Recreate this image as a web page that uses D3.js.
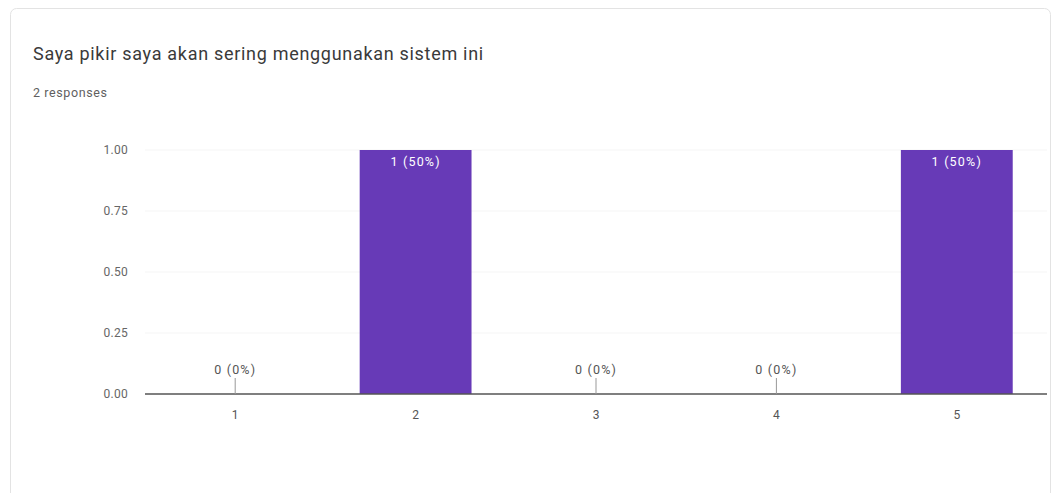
<!DOCTYPE html>
<html><head><meta charset="utf-8">
<script src="https://cdn.jsdelivr.net/npm/d3@7"></script>
<style>
html,body{margin:0;padding:0;background:#fff;}
svg{display:block;}
</style></head>
<body>
<svg id="chart" width="1059" height="493"></svg>
<script>
const title = "Saya pikir saya akan sering menggunakan sistem ini";
const subtitle = "2 responses";
const categories = ["1", "2", "3", "4", "5"];
const counts = [0, 1, 0, 0, 1];
const labels = ["0 (0%)", "1 (50%)", "0 (0%)", "0 (0%)", "1 (50%)"];
const yTicks = [0, 0.25, 0.5, 0.75, 1.0];

const svg = d3.select("#chart");
const font = "Roboto, 'Noto Sans', Arial, sans-serif";

// card
svg.append("rect").attr("x", 10.5).attr("y", 8.5).attr("width", 1040).attr("height", 500)
  .attr("rx", 6).attr("fill", "#fff").attr("stroke", "#e3e3e3");

svg.append("text").attr("x", 33).attr("y", 60).text(title)
  .attr("font-family", font).attr("font-size", 18).attr("letter-spacing", 0.7).attr("fill", "#3a3a3a");
svg.append("text").attr("x", 33).attr("y", 97).text(subtitle)
  .attr("font-family", font).attr("font-size", 12.5).attr("letter-spacing", 0.6).attr("fill", "#5f5f5f");

const x = d3.scaleBand().domain(categories).range([145, 1047]).paddingInner(0.38).paddingOuter(0.19);
const y = d3.scaleLinear().domain([0, 1]).range([394, 150]);

// gridlines
svg.append("g").selectAll("line").data(yTicks.filter(d => d > 0)).join("line")
  .attr("x1", 145).attr("x2", 1047).attr("y1", d => y(d)).attr("y2", d => y(d))
  .attr("stroke", "#f5f5f5");

// y axis labels
const yAxis = svg.append("g").attr("transform", "translate(145,0)")
  .call(d3.axisLeft(y).tickValues(yTicks).tickFormat(d3.format(".2f")).tickSize(0).tickPadding(17));
yAxis.select(".domain").remove();
yAxis.selectAll("text").attr("font-family", font).attr("font-size", 12).attr("letter-spacing", 0.3).attr("fill", "#666");

// bars
svg.append("g").selectAll("rect").data(categories).join("rect")
  .attr("x", d => x(d)).attr("width", x.bandwidth())
  .attr("y", (d, i) => y(counts[i])).attr("height", (d, i) => y(0) - y(counts[i]))
  .attr("fill", "#673ab7");

// baseline
svg.append("line").attr("x1", 145).attr("x2", 1047).attr("y1", y(0)).attr("y2", y(0))
  .attr("stroke", "#555").attr("stroke-width", 1.5);

// x axis labels
const xAxis = svg.append("g").attr("transform", `translate(0,${y(0)})`)
  .call(d3.axisBottom(x).tickSize(0).tickPadding(16));
xAxis.select(".domain").remove();
xAxis.selectAll("text").attr("font-family", font).attr("font-size", 12).attr("fill", "#555");

// value labels
const lg = svg.append("g");
categories.forEach((c, i) => {
  const cx = x(c) + x.bandwidth() / 2;
  if (counts[i] > 0) {
    lg.append("text").attr("x", cx).attr("y", y(counts[i]) + 16).attr("text-anchor", "middle")
      .attr("font-family", font).attr("font-size", 12.5).attr("letter-spacing", 1.2)
      .attr("fill", "#fff").text(labels[i]);
  } else {
    lg.append("line").attr("x1", cx).attr("x2", cx).attr("y1", y(0) - 16).attr("y2", y(0))
      .attr("stroke", "#999");
    lg.append("text").attr("x", cx).attr("y", y(0) - 20).attr("text-anchor", "middle")
      .attr("font-family", font).attr("font-size", 12.5).attr("letter-spacing", 1.2)
      .attr("fill", "#555").text(labels[i]);
  }
});
</script>
</body></html>
